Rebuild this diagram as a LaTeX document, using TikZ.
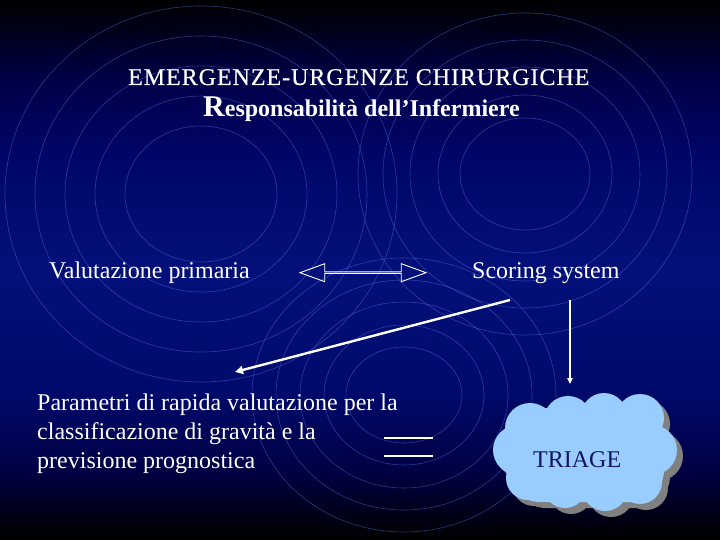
\documentclass[tikz,border=0pt]{standalone}
\usepackage{fontspec}
\setmainfont{Liberation Serif}
\usetikzlibrary{shapes.arrows,arrows.meta}
\definecolor{ringc}{RGB}{80,110,220}
\definecolor{cloudc}{RGB}{153,204,255}
\definecolor{shadowc}{RGB}{128,128,128}
\definecolor{triagetext}{RGB}{20,20,100}
\definecolor{bga}{RGB}{0,0,0}
\definecolor{bgb}{RGB}{0,0,22}
\definecolor{bgc}{RGB}{0,0,72}
\definecolor{bgd}{RGB}{0,6,105}
\definecolor{bge}{RGB}{4,16,122}
\definecolor{bgf}{RGB}{0,10,108}
\definecolor{bgg}{RGB}{0,0,68}
\definecolor{bgh}{RGB}{0,0,18}
\pgfdeclareverticalshading{bgshade}{100bp}{color(0bp)=(bga); color(25bp)=(bga); color(26.85bp)=(bgh); color(31.48bp)=(bgg); color(38.89bp)=(bgf); color(50bp)=(bge); color(60.19bp)=(bgd); color(67.59bp)=(bgc); color(72.69bp)=(bgb); color(75bp)=(bga); color(100bp)=(bga)}
\newcommand\mypuffs{530/428/25, 568/420/24, 604/416/23, 640/418/24, 652/450/25, 640/482/22, 605/488/23, 565/486/22, 528/478/22, 518/450/25}
\tikzset{
  txt/.style={text=white, font=\fontsize{24}{29}\selectfont, inner sep=0pt, anchor=base west},
  ring/.style={draw=ringc, line width=0.6pt, opacity=0.5},
  arrowline/.style={draw=white, line width=2.4pt, -{Triangle[length=8pt,width=8pt]}},
  thinarrow/.style={draw=white, line width=1.4pt, -{Triangle[length=6pt,width=5.5pt]}},
  blankline/.style={draw=white, line width=1.1pt}
}
\begin{document}
\begin{tikzpicture}[x=1pt,y=-1pt]
\useasboundingbox (0,0) rectangle (720,540);
\begin{scope}[y=1pt]
\shade[shading=bgshade] (0,-540) rectangle (720,0);
\end{scope}
% rings
\foreach \a/\b in {76/68,106/98,136/128,166/158,196/188}
  \draw[ring] (201,194) ellipse [x radius=\a, y radius=\b];
\foreach \a/\b in {65/56,87/79,115/107,142/134,167/161}
  \draw[ring] (525,174) ellipse [x radius=\a, y radius=\b];
\foreach \a/\b in {58/48,80/70,104/93,128/115,152/137}
  \draw[ring] (404,395) ellipse [x radius=\a, y radius=\b];
% texts
\node[txt] (title) at (128,85) {\addfontfeatures{LetterSpace=4,FakeBold=0.5}EMERGENZE-URGENZE CHIRURGICHE};
\node[txt] (subtitle) at (203,117) {\bfseries{\fontsize{30}{30}\selectfont R}esponsabilità dell’Infermiere};
\node[txt] (valut) at (49,278) {Valutazione primaria};
\node[txt] (scoring) at (472,278) {Scoring system};
\node[txt] (param1) at (37,410) {Parametri di rapida valutazione per la};
\node[txt] (param2) at (37,439) {classificazione di gravità e la};
\node[txt] (param3) at (37,468) {previsione prognostica};
% double arrow
\node[double arrow, draw=white, line width=0.9pt, double arrow tip angle=40, double arrow head extend=4.5pt, minimum width=18pt, minimum height=126pt, inner sep=0pt] (dbl) at (363,272.7) {};
% cloud: shadow then body
\begin{scope}[shift={(6,6)}]
  \fill[shadowc, rounded corners=32pt] (508,408) rectangle (664,502);
  \foreach \cx/\cy/\r in \mypuffs \fill[shadowc] (\cx,\cy) circle[radius=\r];
\end{scope}
\fill[cloudc, rounded corners=32pt] (508,408) rectangle (664,502);
\foreach \cx/\cy/\r in \mypuffs \fill[cloudc] (\cx,\cy) circle[radius=\r];
\coordinate (triagecloud) at (585,452);
\node[txt, text=triagetext] (triage) at (533,467) {TRIAGE};
% arrows
\coordinate (diagA) at (510,300);
\coordinate (diagB) at (235,372);
\draw[arrowline] (diagA) -- (diagB);
\coordinate (vA) at (570,300);
\coordinate (vB) at (570,384);
\draw[thinarrow] (vA) -- (vB);
% blanks
\coordinate (bl1a) at (384,438); \coordinate (bl1b) at (433,438);
\coordinate (bl2a) at (384,456); \coordinate (bl2b) at (433,456);
\draw[blankline] (bl1a) -- (bl1b);
\draw[blankline] (bl2a) -- (bl2b);
\end{tikzpicture}
\end{document}
